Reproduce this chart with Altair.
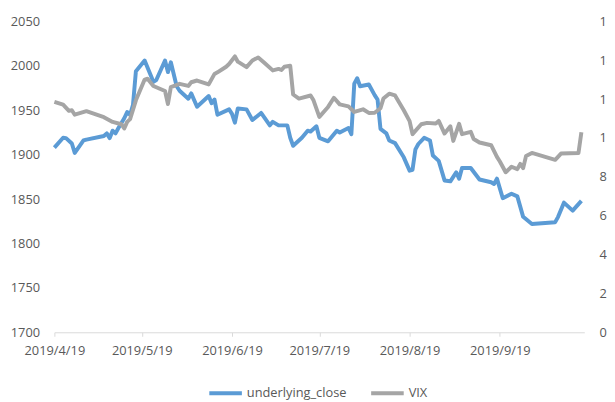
import altair as alt
import pandas as pd

# underlying_close (left axis)
close_dates = [
    "2019-04-19", "2019-04-22", "2019-04-23", "2019-04-25", "2019-04-26", "2019-04-29",
    "2019-04-30", "2019-05-06", "2019-05-07", "2019-05-08", "2019-05-09", "2019-05-10",
    "2019-05-11", "2019-05-13", "2019-05-14", "2019-05-15", "2019-05-16", "2019-05-17",
    "2019-05-20", "2019-05-23", "2019-05-24", "2019-05-27", "2019-05-28", "2019-05-29",
    "2019-05-31", "2019-06-01", "2019-06-04", "2019-06-05", "2019-06-07", "2019-06-11",
    "2019-06-12", "2019-06-13", "2019-06-14", "2019-06-18", "2019-06-19", "2019-06-20",
    "2019-06-21", "2019-06-24", "2019-06-26", "2019-06-29", "2019-07-02", "2019-07-03",
    "2019-07-05", "2019-07-08", "2019-07-09", "2019-07-10", "2019-07-13", "2019-07-15",
    "2019-07-16", "2019-07-18", "2019-07-19", "2019-07-22", "2019-07-23", "2019-07-25",
    "2019-07-26", "2019-07-29", "2019-07-30", "2019-07-31", "2019-08-01", "2019-08-02",
    "2019-08-05", "2019-08-07", "2019-08-08", "2019-08-09", "2019-08-11", "2019-08-12",
    "2019-08-14", "2019-08-17", "2019-08-19", "2019-08-20", "2019-08-21", "2019-08-22",
    "2019-08-24", "2019-08-26", "2019-08-27", "2019-08-29", "2019-08-31", "2019-09-02",
    "2019-09-03", "2019-09-04", "2019-09-05", "2019-09-06", "2019-09-09", "2019-09-12",
    "2019-09-16", "2019-09-17", "2019-09-18", "2019-09-20", "2019-09-23", "2019-09-25",
    "2019-09-27", "2019-09-30", "2019-10-08", "2019-10-09", "2019-10-11", "2019-10-14",
    "2019-10-17",
]
close_values = [
    1908, 1919, 1918.6, 1912.6, 1902, 1916,
    1917, 1921, 1924, 1918.6, 1927, 1924,
    1930, 1941, 1948, 1945, 1956, 1994,
    2006, 1982, 1984, 2006, 1993, 2004,
    1977, 1972, 1963, 1969, 1954, 1966,
    1958, 1962, 1945, 1951, 1946, 1936,
    1952, 1951, 1939, 1947, 1933, 1937,
    1933, 1933, 1919, 1910, 1919, 1927,
    1926, 1932, 1919, 1915, 1919, 1927,
    1925, 1930, 1923, 1980, 1986, 1977,
    1979, 1967, 1962, 1929, 1924, 1916,
    1913, 1897, 1882, 1883, 1906, 1912,
    1919, 1916, 1899, 1893, 1871, 1870,
    1875, 1880, 1873, 1885, 1885, 1872,
    1869, 1867, 1873, 1851, 1856, 1853,
    1830, 1822, 1824, 1830, 1846, 1837,
    1848,
]

# VIX (right axis)
vix_dates = [
    "2019-04-19", "2019-04-22", "2019-04-24", "2019-04-25", "2019-04-26", "2019-04-30",
    "2019-05-06", "2019-05-09", "2019-05-12", "2019-05-13", "2019-05-14", "2019-05-15",
    "2019-05-17", "2019-05-20", "2019-05-21", "2019-05-23", "2019-05-27", "2019-05-28",
    "2019-05-29", "2019-06-01", "2019-06-04", "2019-06-05", "2019-06-07", "2019-06-11",
    "2019-06-13", "2019-06-14", "2019-06-17", "2019-06-18", "2019-06-20", "2019-06-21",
    "2019-06-24", "2019-06-26", "2019-06-28", "2019-06-30", "2019-07-03", "2019-07-05",
    "2019-07-06", "2019-07-07", "2019-07-09", "2019-07-10", "2019-07-12", "2019-07-16",
    "2019-07-17", "2019-07-19", "2019-07-22", "2019-07-24", "2019-07-26", "2019-07-29",
    "2019-07-31", "2019-08-03", "2019-08-05", "2019-08-07", "2019-08-09", "2019-08-10",
    "2019-08-12", "2019-08-14", "2019-08-17", "2019-08-19", "2019-08-20", "2019-08-23",
    "2019-08-25", "2019-08-28", "2019-08-29", "2019-08-31", "2019-09-02", "2019-09-03",
    "2019-09-05", "2019-09-06", "2019-09-09", "2019-09-10", "2019-09-12", "2019-09-16",
    "2019-09-18", "2019-09-19", "2019-09-21", "2019-09-23", "2019-09-25", "2019-09-26",
    "2019-09-27", "2019-09-28", "2019-09-30", "2019-10-08", "2019-10-10", "2019-10-16",
    "2019-10-17",
]
vix_values = [
    11.86, 11.72, 11.40, 11.43, 11.20, 11.38,
    11.07, 10.83, 10.71, 10.49, 10.83, 10.97,
    11.94, 13.01, 13.05, 12.68, 12.42, 11.75,
    12.62, 12.79, 12.68, 12.87, 12.96, 12.76,
    13.30, 13.38, 13.67, 13.81, 14.20, 13.93,
    13.65, 13.99, 14.15, 13.89, 13.48, 13.56,
    13.50, 13.67, 13.72, 12.24, 12.03, 12.19,
    11.94, 11.09, 11.60, 12.07, 11.73, 11.63,
    11.34, 11.48, 11.29, 11.30, 11.53, 12.03,
    12.28, 12.19, 11.43, 10.87, 10.20, 10.71,
    10.78, 10.75, 10.88, 10.23, 10.60, 9.85,
    10.73, 10.20, 10.32, 9.95, 9.77, 9.63,
    9.03, 8.79, 8.24, 8.52, 8.40, 8.67,
    8.45, 9.08, 9.23, 8.88, 9.20, 9.23,
    10.30,
]

series_names = ["underlying_close", "VIX"]
series_colors = ["#5B9BD5", "#A5A5A5"]
left_ticks = [1700, 1750, 1800, 1850, 1900, 1950, 2000, 2050]
right_ticks = [0, 2, 4, 6, 8, 10, 12, 14, 16]
x_tick_dates = [(2019, 4, 19), (2019, 5, 19), (2019, 6, 19), (2019, 7, 19), (2019, 8, 19), (2019, 9, 19)]

df_close = pd.DataFrame({
    "date": [d + "T00:00:00" for d in close_dates],
    "value": close_values,
    "series": series_names[0],
})
df_vix = pd.DataFrame({
    "date": [d + "T00:00:00" for d in vix_dates],
    "value": vix_values,
    "series": series_names[1],
})

FONT = "Open Sans"
TEXT = "#595959"

x_enc = alt.X(
    "date:T",
    scale=alt.Scale(domain=[alt.DateTime(year=2019, month=4, date=19),
                            alt.DateTime(year=2019, month=10, date=18)]),
    axis=alt.Axis(
        values=[alt.DateTime(year=y, month=m, date=d) for (y, m, d) in x_tick_dates],
        format="%Y/%-m/%-d", title=None, grid=False,
        domainColor="#D9D9D9", domainWidth=1, tickColor="#D9D9D9", tickSize=4,
        labelPadding=9, labelFont=FONT, labelFontSize=13, labelColor=TEXT,
        labelFlush=False, labelOverlap=False,
    ),
)

color_enc = alt.Color(
    "series:N",
    scale=alt.Scale(domain=series_names, range=series_colors),
    legend=alt.Legend(
        title=None, orient="none", direction="horizontal",
        legendX=155, legendY=358,
        symbolType="stroke", symbolSize=1089, symbolStrokeWidth=4,
        labelFont=FONT, labelFontSize=13, labelColor=TEXT,
        labelOffset=3, columnPadding=16, padding=0,
    ),
)

close_line = alt.Chart(df_close).mark_line(strokeWidth=4, strokeJoin="round").encode(
    x=x_enc,
    y=alt.Y(
        "value:Q",
        scale=alt.Scale(domain=[1700, 2050], nice=False, zero=False),
        axis=alt.Axis(
            values=left_ticks, title=None, grid=False, domain=False, ticks=False,
            tickSize=0, labelPadding=15, labelFont=FONT, labelFontSize=13,
            labelColor=TEXT, format="d",
        ),
    ),
    color=color_enc,
)

vix_line = alt.Chart(df_vix).mark_line(strokeWidth=4, strokeJoin="round").encode(
    x=x_enc,
    y=alt.Y(
        "value:Q",
        scale=alt.Scale(domain=[0, 16], nice=False),
        axis=alt.Axis(
            orient="right", values=right_ticks, title=None, grid=False,
            domain=False, ticks=False, tickSize=0, labelPadding=15,
            labelFont=FONT, labelFontSize=13, labelColor=TEXT, format="d",
        ),
    ),
    color=color_enc,
)

chart = (
    alt.layer(close_line, vix_line)
    .resolve_scale(y="independent")
    .properties(
        width=537, height=315,
        autosize=alt.AutoSizeParams(type="none"),
        padding={"left": 47, "top": 11, "right": 23, "bottom": 68},
        background="white",
    )
    .configure_view(stroke=None)
)

chart.save("out.html", embed_options={"renderer": "svg", "actions": False})
